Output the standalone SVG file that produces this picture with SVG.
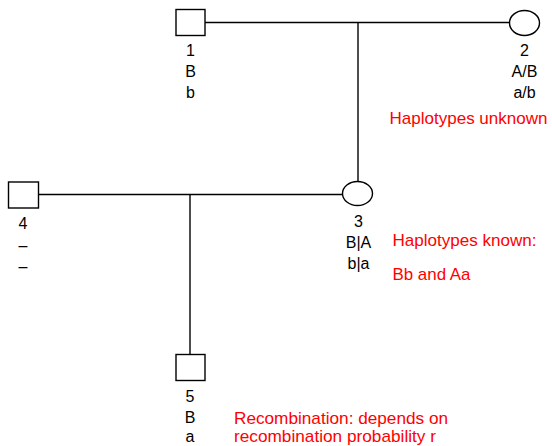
<svg xmlns="http://www.w3.org/2000/svg" width="552" height="446" viewBox="0 0 552 446">
<style>
.shape{fill:#fff;stroke:#000;stroke-width:1.4}
.conn line{stroke:#000;stroke-width:1.4}
.lbl{font-family:"Liberation Sans",Arial,sans-serif;font-size:16px;fill:#000;text-anchor:middle}
.note{font-family:"Liberation Sans",Arial,sans-serif;font-size:17px;fill:#ff0000}
</style>
<rect width="552" height="446" fill="#fff"/>
<g id="connectors" class="conn">
<line x1="205" y1="22.5" x2="509.5" y2="22.5"/>
<line x1="358" y1="22.5" x2="358" y2="181.5"/>
<line x1="38.5" y1="194.5" x2="342.5" y2="194.5"/>
<line x1="190" y1="194.5" x2="190" y2="354.5"/>
</g>
<g id="node1">
<rect class="shape" x="176" y="9.5" width="29" height="26"/>
<text class="lbl" x="190.5" y="56">1</text>
<text class="lbl" x="190.5" y="77">B</text>
<text class="lbl" x="190.5" y="98">b</text>
</g>
<g id="node2">
<ellipse class="shape" cx="524.5" cy="23" rx="15" ry="12.5"/>
<text class="lbl" x="524.5" y="56">2</text>
<text class="lbl" x="524.5" y="77">A/B</text>
<text class="lbl" x="524.5" y="98">a/b</text>
<text class="note" x="389.5" y="123.5" textLength="158" lengthAdjust="spacingAndGlyphs">Haplotypes unknown</text>
</g>
<g id="node3">
<ellipse class="shape" cx="357.5" cy="193.5" rx="15" ry="12"/>
<text class="lbl" x="358.5" y="227">3</text>
<text class="lbl" x="358.5" y="248">B|A</text>
<text class="lbl" x="358.5" y="269">b|a</text>
<text class="note" x="392.5" y="246" textLength="144" lengthAdjust="spacingAndGlyphs">Haplotypes known:</text>
<text class="note" x="392.5" y="280" textLength="78" lengthAdjust="spacingAndGlyphs">Bb and Aa</text>
</g>
<g id="node4">
<rect class="shape" x="8.5" y="182" width="30" height="26"/>
<text class="lbl" x="23" y="228.5">4</text>
<text class="lbl" x="23" y="250.5">–</text>
<text class="lbl" x="23" y="271.5">–</text>
</g>
<g id="node5">
<rect class="shape" x="176" y="354.5" width="29" height="26"/>
<text class="lbl" x="190" y="401.5">5</text>
<text class="lbl" x="190" y="422.5">B</text>
<text class="lbl" x="190" y="442">a</text>
<text class="note" x="234" y="423.5" textLength="214" lengthAdjust="spacingAndGlyphs">Recombination: depends on</text>
<text class="note" x="234" y="442" textLength="202" lengthAdjust="spacingAndGlyphs">recombination probability r</text>
</g>
</svg>
